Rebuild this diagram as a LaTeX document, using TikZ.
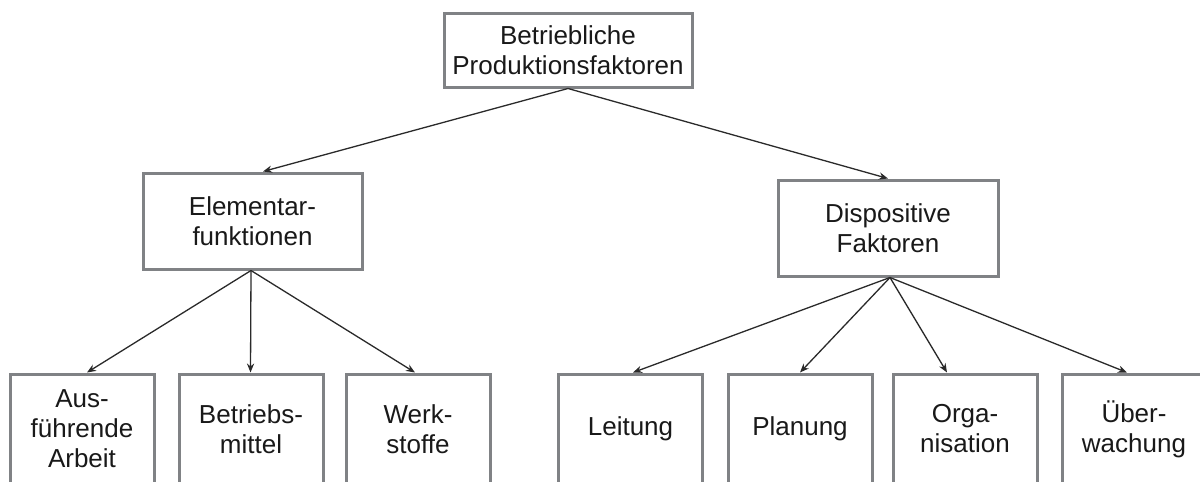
\documentclass[tikz,border=0pt]{standalone}
\usepackage{fontspec}
\setmainfont{Liberation Sans}
\usetikzlibrary{arrows.meta,calc}
\definecolor{boxgray}{HTML}{808285}
\definecolor{linedark}{HTML}{2A2A2A}
\begin{document}
\begin{tikzpicture}[x=0.5pt,y=-0.5pt,
  box/.style={draw=boxgray, line width=1.5pt, fill=white, rectangle,
    align=center, inner sep=0pt, font=\fontsize{13}{15}\selectfont,
    text=black!90},
  leaf/.style={box, minimum width=72pt, minimum height=55pt},
  link/.style={draw=linedark, line width=0.65pt,
    -{Stealth[length=4.5pt,width=3.6pt]}}]
\useasboundingbox (0,0) rectangle (1200,482);
\clip (0,0) rectangle (1200,482);

% root and second level
\node[box, minimum width=124pt, minimum height=37pt] (root) at (568,50)
  {Betriebliche\\Produktionsfaktoren};
\node[box, minimum width=109.5pt, minimum height=48pt] (elem) at (252.5,221)
  {Elementar-\\funktionen};
\node[box, minimum width=110pt, minimum height=48pt] (disp) at (888,228)
  {Dispositive\\Faktoren};

% leaves (boxes run past the lower edge)
\node[leaf] (arb) at (82,429) {Aus-\\führende\\Arbeit};
\node[leaf] (bm)  at (251,429) {Betriebs-\\mittel};
\node[leaf] (ws)  at (418,429) {Werk-\\stoffe};
\node[leaf] (lei) at (630.5,429) {Leitung};
\node[leaf] (pla) at (800,429) {Planung};
\node[leaf] (org) at (965,429) {Orga-\\nisation};
\node[leaf] (ueb) at (1134,429) {Über-\\wachung};

% connectors
\draw[link] (root.south) -- ($(elem.north)+(10.5,0)$);
\draw[link] (root.south) -- (disp.north);
\draw[link] ($(elem.south)+(-1.5,0)$) -- ($(arb.north)+(5,0)$);
\draw[link] ($(elem.south)+(-1.5,0)$) -- ($(bm.north)+(-0.5,0)$);
\draw[link] ($(elem.south)+(-1.5,0)$) -- ($(ws.north)+(-3,0)$);
\draw[link] ($(disp.south)+(2,0)$) -- ($(lei.north)+(2.5,0)$);
\draw[link] ($(disp.south)+(2,0)$) -- (pla.north);
\draw[link] ($(disp.south)+(2,0)$) -- ($(org.north)+(-18,0)$);
\draw[link] ($(disp.south)+(2,0)$) -- ($(ueb.north)+(-7,0)$);
\end{tikzpicture}
\end{document}
